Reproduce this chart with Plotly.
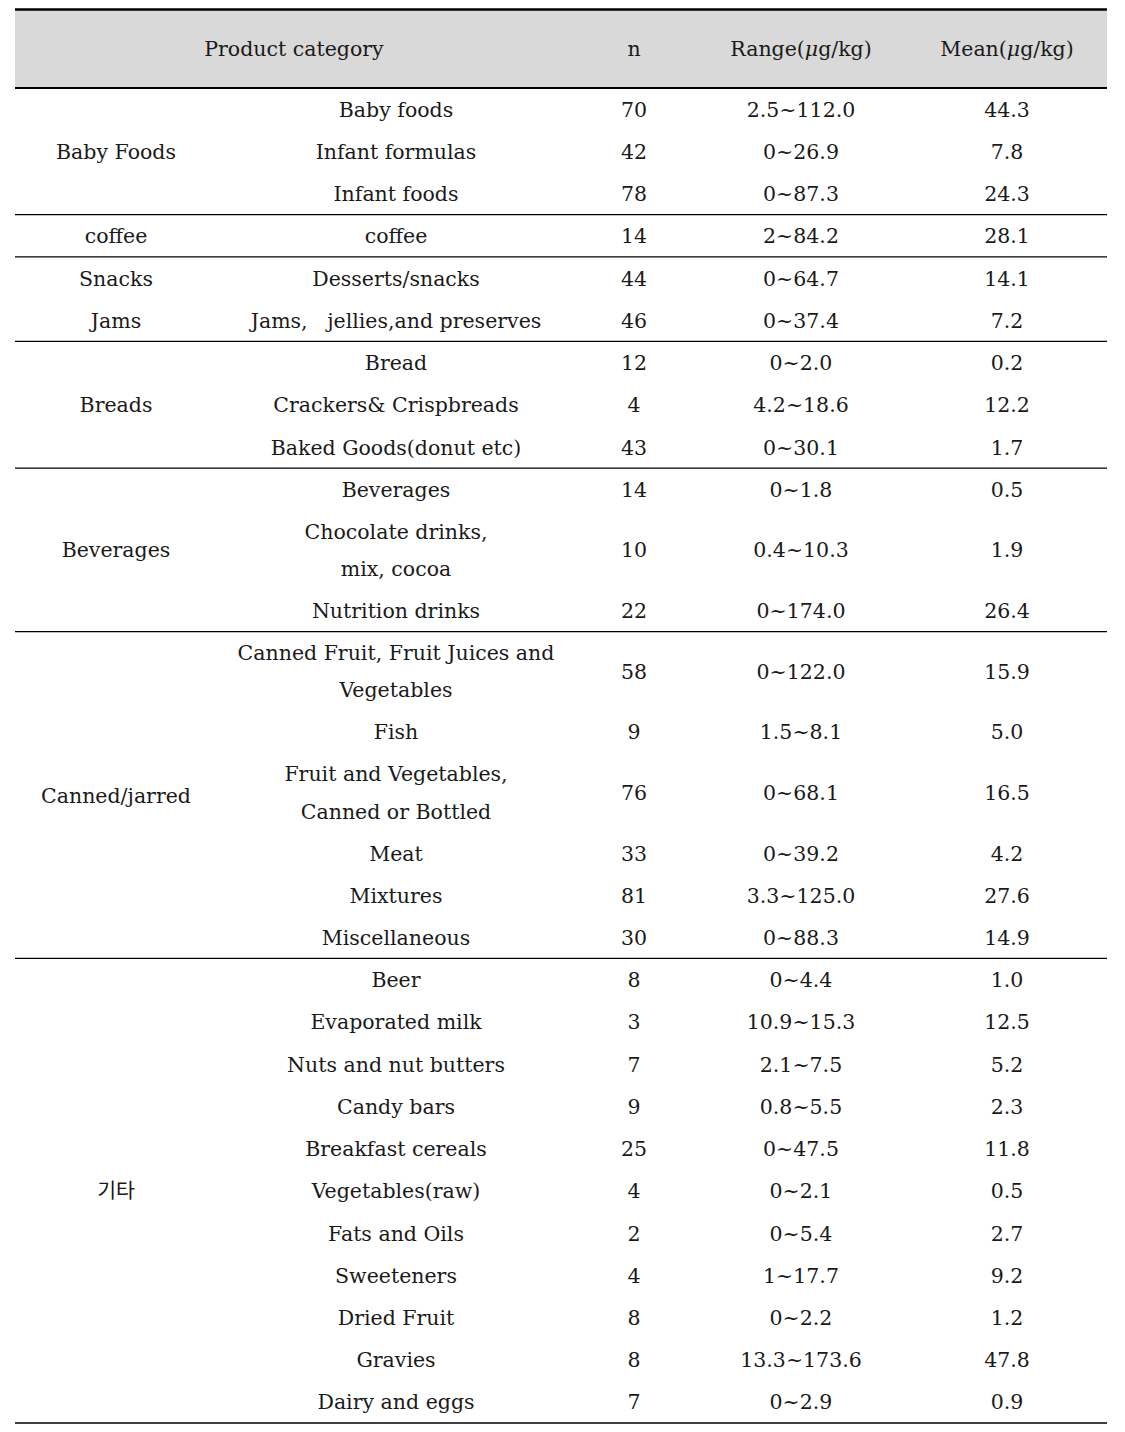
import plotly.graph_objects as go

# table content
headers = ["Product category", "n", "Range(<i>μ</i>g/kg)", "Mean(<i>μ</i>g/kg)"]

groups = ["Baby Foods", "coffee", "Snacks", "Jams", "Breads", "Beverages", "Canned/jarred", "기타"]
group_rows = [3, 1, 1, 1, 3, 3, 6, 11]
rule_below = [True, True, False, True, True, True, True, True]

subcats = [
    "Baby foods", "Infant formulas", "Infant foods",
    "coffee",
    "Desserts/snacks",
    "Jams,\u00a0\u00a0 jellies,and preserves",
    "Bread", "Crackers& Crispbreads", "Baked Goods(donut etc)",
    "Beverages", "Chocolate drinks,<br>mix, cocoa", "Nutrition drinks",
    "Canned Fruit, Fruit Juices and<br>Vegetables", "Fish",
    "Fruit and Vegetables,<br>Canned or Bottled", "Meat", "Mixtures", "Miscellaneous",
    "Beer", "Evaporated milk", "Nuts and nut butters", "Candy bars", "Breakfast cereals",
    "Vegetables(raw)", "Fats and Oils", "Sweeteners", "Dried Fruit", "Gravies", "Dairy and eggs",
]
n_vals = [70, 42, 78, 14, 44, 46, 12, 4, 43, 14, 10, 22, 58, 9, 76, 33, 81, 30,
          8, 3, 7, 9, 25, 4, 2, 4, 8, 8, 7]
ranges = ["2.5~112.0", "0~26.9", "0~87.3", "2~84.2", "0~64.7", "0~37.4",
          "0~2.0", "4.2~18.6", "0~30.1", "0~1.8", "0.4~10.3", "0~174.0",
          "0~122.0", "1.5~8.1", "0~68.1", "0~39.2", "3.3~125.0", "0~88.3",
          "0~4.4", "10.9~15.3", "2.1~7.5", "0.8~5.5", "0~47.5", "0~2.1",
          "0~5.4", "1~17.7", "0~2.2", "13.3~173.6", "0~2.9"]
means = ["44.3", "7.8", "24.3", "28.1", "14.1", "7.2", "0.2", "12.2", "1.7",
         "0.5", "1.9", "26.4", "15.9", "5.0", "16.5", "4.2", "27.6", "14.9",
         "1.0", "12.5", "5.2", "2.3", "11.8", "0.5", "2.7", "9.2", "1.2", "47.8", "0.9"]

# layout constants (pixels, page coordinates)
W, H = 1125, 1432
PAGE_OFF = 8  # html body margin
LEFT, RIGHT = 15, 1107
HEAD_TOP, HEAD_BOT = 9.5, 88
ROW_H, DOUBLE_H, LINE_GAP = 42.23, 79.0, 37.5
TEXT_DY = 2.5
col_x = [116, 396, 634, 801, 1007]
head_x = [294, 634, 801, 1007]
FONT = "DejaVu Serif, Noto Sans CJK KR"
FS = 20.5
TXT = "#1a1a1a"

# row geometry
row_top, row_mid = [], []
y = HEAD_BOT
for s in subcats:
    h = DOUBLE_H if "<br>" in s else ROW_H
    row_top.append(y)
    row_mid.append(y + h / 2)
    y += h
table_bot = y

fig = go.Figure()

# header
fig.add_shape(type="rect", x0=LEFT, x1=RIGHT, y0=HEAD_TOP, y1=HEAD_BOT,
              fillcolor="#d9d9d9", line_width=0, layer="below")
fig.add_shape(type="line", x0=LEFT, x1=RIGHT, y0=HEAD_TOP, y1=HEAD_TOP,
              line=dict(color="black", width=2.5))
fig.add_shape(type="line", x0=LEFT, x1=RIGHT, y0=HEAD_BOT, y1=HEAD_BOT,
              line=dict(color="black", width=2))
head_mid = (HEAD_TOP + HEAD_BOT) / 2 + TEXT_DY
fig.add_trace(go.Scatter(
    x=head_x, y=[head_mid] * 4,
    text=headers, mode="text", textposition="middle center",
    textfont=dict(family=FONT, size=FS, color=TXT), hoverinfo="skip"))

# group labels and rules
i = 0
for g, k, rule in zip(groups, group_rows, rule_below):
    top = row_top[i]
    bot = row_top[i + k] if i + k < len(row_top) else table_bot
    fig.add_trace(go.Scatter(
        x=[col_x[0]], y=[(top + bot) / 2 + TEXT_DY], text=[g], mode="text",
        textposition="middle center",
        textfont=dict(family=FONT, size=FS, color=TXT), hoverinfo="skip"))
    if rule:
        last = i + k == len(row_top)
        fig.add_shape(type="line", x0=LEFT, x1=RIGHT, y0=bot, y1=bot,
                      line=dict(color="black", width=1.6 if last else 1.2))
    i += k

# sub-category column (two-line cells split into separate lines)
sx, sy, st = [], [], []
for s, m in zip(subcats, row_mid):
    parts = s.split("<br>")
    off = -(len(parts) - 1) * LINE_GAP / 2
    for j, p in enumerate(parts):
        sx.append(col_x[1])
        sy.append(m + off + j * LINE_GAP + TEXT_DY)
        st.append(p)
fig.add_trace(go.Scatter(x=sx, y=sy, text=st, mode="text", textposition="middle center",
                         textfont=dict(family=FONT, size=FS, color=TXT), hoverinfo="skip"))

for cx, vals in zip(col_x[2:], [n_vals, ranges, means]):
    fig.add_trace(go.Scatter(
        x=[cx] * len(vals), y=[m + TEXT_DY for m in row_mid],
        text=[str(v) for v in vals], mode="text", textposition="middle center",
        textfont=dict(family=FONT, size=FS, color=TXT), hoverinfo="skip"))

fig.update_layout(
    width=W, height=H, margin=dict(l=0, r=0, t=0, b=0),
    paper_bgcolor="white", plot_bgcolor="white", showlegend=False,
    xaxis=dict(range=[PAGE_OFF, W + PAGE_OFF], visible=False, fixedrange=True),
    yaxis=dict(range=[H + PAGE_OFF, PAGE_OFF], visible=False, fixedrange=True),
)

fig.write_html("out.html")
